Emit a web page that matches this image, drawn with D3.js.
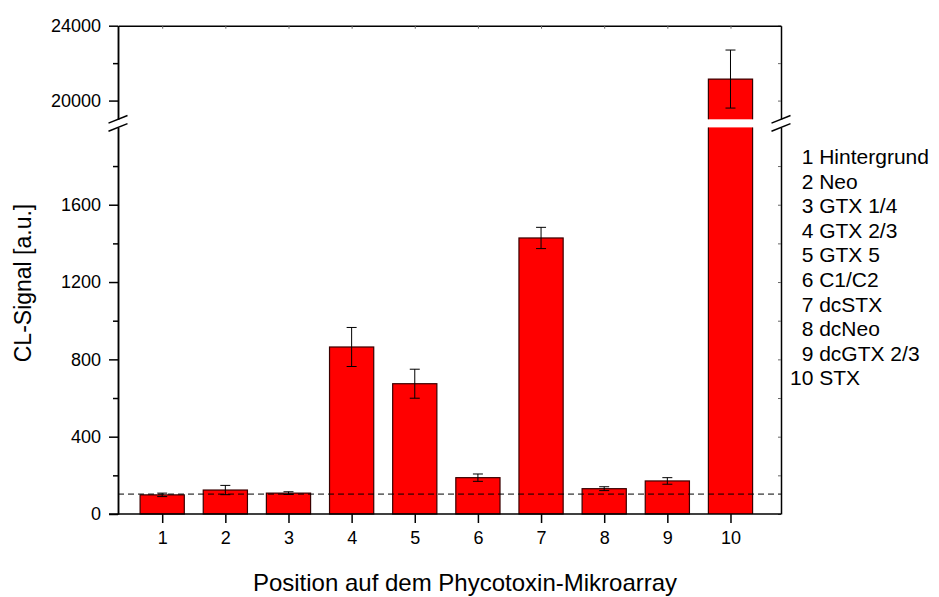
<!DOCTYPE html>
<html>
<head>
<meta charset="utf-8">
<script src="https://cdn.jsdelivr.net/npm/d3@7"></script>
<style>
  body { margin: 0; background: #fff; }
  text { font-family: "Liberation Sans", Arial, sans-serif; fill: #000; }
</style>
</head>
<body>
<script>
// data
const positions = [1, 2, 3, 4, 5, 6, 7, 8, 9, 10];
const toxins = ["Hintergrund", "Neo", "GTX 1/4", "GTX 2/3", "GTX 5", "C1/C2", "dcSTX", "dcNeo", "dcGTX 2/3", "STX"];
const signal = [99, 124, 108, 864, 674, 188, 1428, 131, 171, 21150];
const errors = [9, 24, 7, 101, 75, 19, 55, 10, 17, 1550];
const background = 103;

const lowTicks = [0, 400, 800, 1200, 1600];
const lowMinor = [200, 600, 1000, 1400, 1800];
const highTicks = [20000, 24000];
const highMinor = [22000];
const breakLow = 2000, breakHigh = 19000;

const width = 939, height = 597;
const plotL = 118, plotR = 781, plotB = 514, plotT = 25.7;

const svg = d3.select('body').append('svg')
    .attr('width', width)
    .attr('height', height);

const x = d3.scaleLinear().domain([0.3, 10.8]).range([plotL, plotR]);
const yLow = d3.scaleLinear().domain([0, breakLow]).range([plotB, 127.4]);
const yHigh = d3.scaleLinear().domain([breakHigh, 24000]).range([119.3, plotT]);
const barW = x(0.7) - x(0);
const fmt = d3.format('d');

// bars
const bars = svg.append('g');
positions.forEach((p, i) => {
    const v = signal[i];
    const x0 = x(p) - barW / 2;
    if (v <= breakLow) {
        bars.append('rect')
            .attr('x', x0).attr('y', yLow(v))
            .attr('width', barW).attr('height', yLow(0) - yLow(v))
            .attr('fill', '#ff0000')
            .attr('stroke', '#3a0000').attr('stroke-width', 1.2);
    } else {
        bars.append('rect')
            .attr('x', x0).attr('y', yLow(breakLow))
            .attr('width', barW).attr('height', yLow(0) - yLow(breakLow))
            .attr('fill', '#ff0000');
        bars.append('rect')
            .attr('x', x0).attr('y', yHigh(v))
            .attr('width', barW).attr('height', yHigh(breakHigh) - yHigh(v))
            .attr('fill', '#ff0000');
        bars.append('path')
            .attr('d', `M${x0},${yLow(0)}V${yLow(breakLow)}M${x0 + barW},${yLow(0)}V${yLow(breakLow)}` +
                       `M${x0},${yHigh(breakHigh)}V${yHigh(v)}H${x0 + barW}V${yHigh(breakHigh)}`)
            .attr('fill', 'none')
            .attr('stroke', '#3a0000').attr('stroke-width', 1.2);
    }
});

// error bars
const errG = svg.append('g').attr('stroke', '#000').attr('stroke-width', 1);
positions.forEach((p, i) => {
    const v = signal[i], e = errors[i];
    const y = v > breakLow ? yHigh : yLow;
    const cx = x(p);
    errG.append('line').attr('x1', cx).attr('x2', cx).attr('y1', y(v - e)).attr('y2', y(v + e));
    [v - e, v + e].forEach(t => {
        errG.append('line').attr('x1', cx - 5).attr('x2', cx + 5).attr('y1', y(t)).attr('y2', y(t));
    });
});

// background level
svg.append('line')
    .attr('x1', plotL).attr('x2', plotR)
    .attr('y1', yLow(background)).attr('y2', yLow(background))
    .attr('stroke', '#000').attr('stroke-width', 1)
    .attr('stroke-dasharray', '6,4');

// axes
function styleAxis(g) {
    g.selectAll('path, line').attr('stroke', '#000').attr('stroke-width', 1.5);
    g.selectAll('text').attr('font-size', 18).attr('fill', '#000')
        .style('font-family', '"Liberation Sans", Arial, sans-serif');
}

svg.append('g').attr('transform', `translate(${plotL},0)`)
    .call(d3.axisLeft(yLow).tickValues(lowTicks).tickSize(9).tickSizeOuter(0).tickPadding(8).tickFormat(fmt))
    .call(styleAxis);
svg.append('g').attr('transform', `translate(${plotL},0)`)
    .call(d3.axisLeft(yLow).tickValues(lowMinor).tickSize(5).tickSizeOuter(0).tickFormat(''))
    .call(styleAxis);
svg.append('g').attr('transform', `translate(${plotL},0)`)
    .call(d3.axisLeft(yHigh).tickValues(highTicks).tickSize(9).tickSizeOuter(0).tickPadding(8).tickFormat(fmt))
    .call(styleAxis);
svg.append('g').attr('transform', `translate(${plotL},0)`)
    .call(d3.axisLeft(yHigh).tickValues(highMinor).tickSize(5).tickSizeOuter(0).tickFormat(''))
    .call(styleAxis);

// right axis, small inward ticks
svg.append('g').attr('transform', `translate(${plotR},0)`)
    .call(d3.axisLeft(yLow).tickValues(lowTicks.concat(lowMinor)).tickSize(3).tickSizeOuter(0).tickFormat(''))
    .call(styleAxis)
    .call(g => g.selectAll('.tick line').attr('stroke', '#666').attr('stroke-width', 1));
svg.append('g').attr('transform', `translate(${plotR},0)`)
    .call(d3.axisLeft(yHigh).tickValues(highTicks.concat(highMinor)).tickSize(3).tickSizeOuter(0).tickFormat(''))
    .call(styleAxis)
    .call(g => g.selectAll('.tick line').attr('stroke', '#666').attr('stroke-width', 1));

// bottom axis
svg.append('g').attr('transform', `translate(0,${plotB})`)
    .call(d3.axisBottom(x).tickValues(positions).tickSize(9).tickSizeOuter(0).tickPadding(8).tickFormat(fmt))
    .call(styleAxis)
    .call(g => g.select('.domain').remove());
svg.append('line')
    .attr('x1', plotL - 9).attr('x2', plotR)
    .attr('y1', plotB).attr('y2', plotB)
    .attr('stroke', '#000').attr('stroke-width', 1.5);

// top axis, small inward ticks
svg.append('g').attr('transform', `translate(0,${plotT})`)
    .call(d3.axisBottom(x).tickValues(positions).tickSize(3).tickSizeOuter(0).tickFormat(''))
    .call(styleAxis)
    .call(g => g.selectAll('.tick line').attr('stroke', '#666').attr('stroke-width', 1));

// axis break marks
[plotL, plotR].forEach(ax => {
    [yHigh(breakHigh), yLow(breakLow)].forEach(by => {
        svg.append('line')
            .attr('x1', ax - 9.5).attr('y1', by + 3.8)
            .attr('x2', ax + 9.5).attr('y2', by - 3.8)
            .attr('stroke', '#000').attr('stroke-width', 1.5);
    });
});

// axis titles
svg.append('text')
    .attr('x', 465).attr('y', 591)
    .attr('text-anchor', 'middle')
    .attr('font-size', 24)
    .text('Position auf dem Phycotoxin-Mikroarray');

svg.append('text')
    .attr('transform', 'translate(31,283) rotate(-90)')
    .attr('text-anchor', 'middle')
    .attr('font-size', 23)
    .text('CL-Signal [a.u.]');

// legend list
const legendFont = 21;
const digitW = legendFont * 0.556;
svg.append('g').selectAll('text')
    .data(positions)
    .enter()
    .append('text')
    .attr('x', d => 790 + (2 - String(d).length) * digitW)
    .attr('y', (d, i) => 164 + i * 24.6)
    .attr('font-size', legendFont)
    .text((d, i) => `${d} ${toxins[i]}`);
</script>
</body>
</html>
